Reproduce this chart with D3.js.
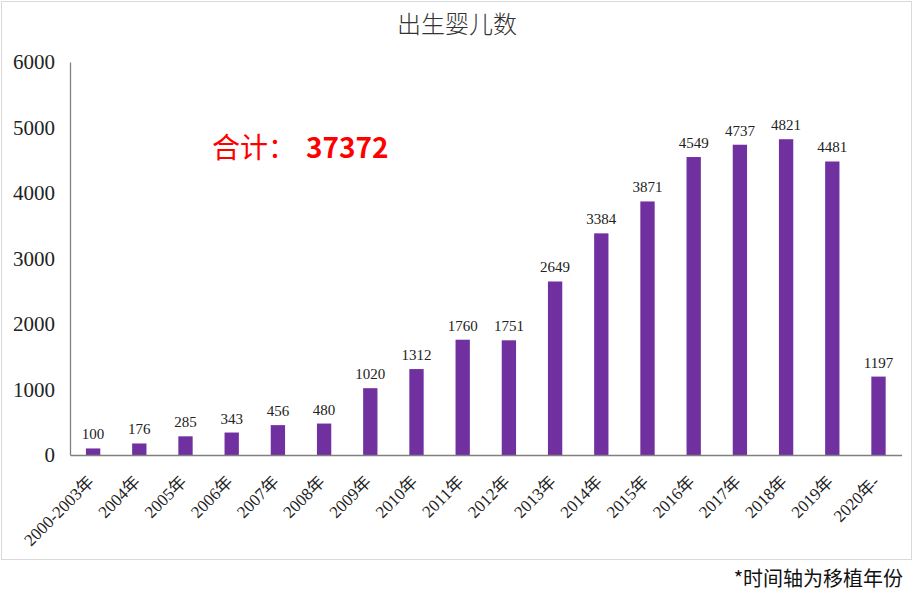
<!DOCTYPE html>
<html>
<head>
<meta charset="utf-8">
<script src="https://cdn.jsdelivr.net/npm/d3@7"></script>
<style>
  body { margin: 0; background: #fff; }
  svg { display: block; }
</style>
</head>
<body>
<div id="chart"></div>
<script>
const years = ['2000-2003年', '2004年', '2005年', '2006年', '2007年', '2008年', '2009年', '2010年', '2011年',
               '2012年', '2013年', '2014年', '2015年', '2016年', '2017年', '2018年', '2019年', '2020年-'];
const births = [100, 176, 285, 343, 456, 480, 1020, 1312, 1760, 1751, 2649, 3384, 3871, 4549, 4737, 4821, 4481, 1197];
const yTicks = [0, 1000, 2000, 3000, 4000, 5000, 6000];
const total = '37372';

const W = 915, H = 597;
const serif = '"Liberation Serif", "Noto Sans CJK SC", serif';
const cjk = '"Noto Sans CJK SC", sans-serif';

const svg = d3.select('#chart').append('svg')
  .attr('width', W)
  .attr('height', H);

// chart frame
svg.append('rect')
  .attr('x', 1.5).attr('y', 1.5)
  .attr('width', 910).attr('height', 558)
  .attr('fill', 'none')
  .attr('stroke', '#d9d9d9');

const x = d3.scaleBand()
  .domain(years)
  .range([70, 901.6])
  .paddingInner(0.69)
  .paddingOuter(0.345);

const y = d3.scaleLinear()
  .domain([0, 6000])
  .range([455, 62]);

// title
svg.append('text')
  .attr('x', 457).attr('y', 33)
  .attr('text-anchor', 'middle')
  .attr('font-family', cjk)
  .attr('font-weight', 300)
  .attr('font-size', 24)
  .attr('fill', '#333')
  .text('出生婴儿数');

// bars
svg.selectAll('rect.bar')
  .data(births).enter()
  .append('rect')
  .attr('class', 'bar')
  .attr('x', (d, i) => x(years[i]))
  .attr('y', d => y(d))
  .attr('width', x.bandwidth())
  .attr('height', d => y(0) - y(d))
  .attr('fill', '#7030a0');

// value labels
svg.selectAll('text.val')
  .data(births).enter()
  .append('text')
  .attr('class', 'val')
  .attr('x', (d, i) => x(years[i]) + x.bandwidth() / 2)
  .attr('y', d => y(d) - 9)
  .attr('text-anchor', 'middle')
  .style('font-family', serif)
  .attr('font-size', 15)
  .attr('fill', '#222')
  .text(d => d);

// y axis
const yAxis = svg.append('g')
  .attr('transform', 'translate(70,0)')
  .attr('font-family', serif)
  .call(d3.axisLeft(y).tickValues(yTicks).tickFormat(d3.format('d')).tickSize(0).tickPadding(15));
yAxis.select('.domain').attr('stroke', '#808080').attr('stroke-width', 1.3);
yAxis.selectAll('text')
  .style('font-family', serif)
  .attr('font-size', 21)
  .attr('fill', '#222');

// x axis
const xAxis = svg.append('g')
  .attr('transform', `translate(0,${y(0)})`)
  .attr('font-family', serif)
  .call(d3.axisBottom(x).tickSize(0).tickPadding(0).tickSizeOuter(0));
xAxis.select('.domain').attr('stroke', '#808080').attr('stroke-width', 1.3);
xAxis.selectAll('text')
  .style('font-family', serif)
  .attr('font-size', 17)
  .attr('fill', '#222')
  .attr('text-anchor', 'end')
  .attr('y', 0)
  .attr('dy', 0)
  .attr('transform', 'translate(2,28) rotate(-45)');

// total
svg.append('text')
  .attr('x', 212).attr('y', 158)
  .attr('font-family', cjk)
  .attr('font-size', 28)
  .attr('fill', '#ff0000')
  .text('合计：')
  .append('tspan')
  .attr('dx', 10)
  .attr('font-weight', 'bold')
  .text(total);

// note
svg.append('text')
  .attr('x', 903).attr('y', 586)
  .attr('text-anchor', 'end')
  .attr('font-family', cjk)
  .attr('font-size', 20)
  .attr('fill', '#111')
  .text('*时间轴为移植年份');
</script>
</body>
</html>
